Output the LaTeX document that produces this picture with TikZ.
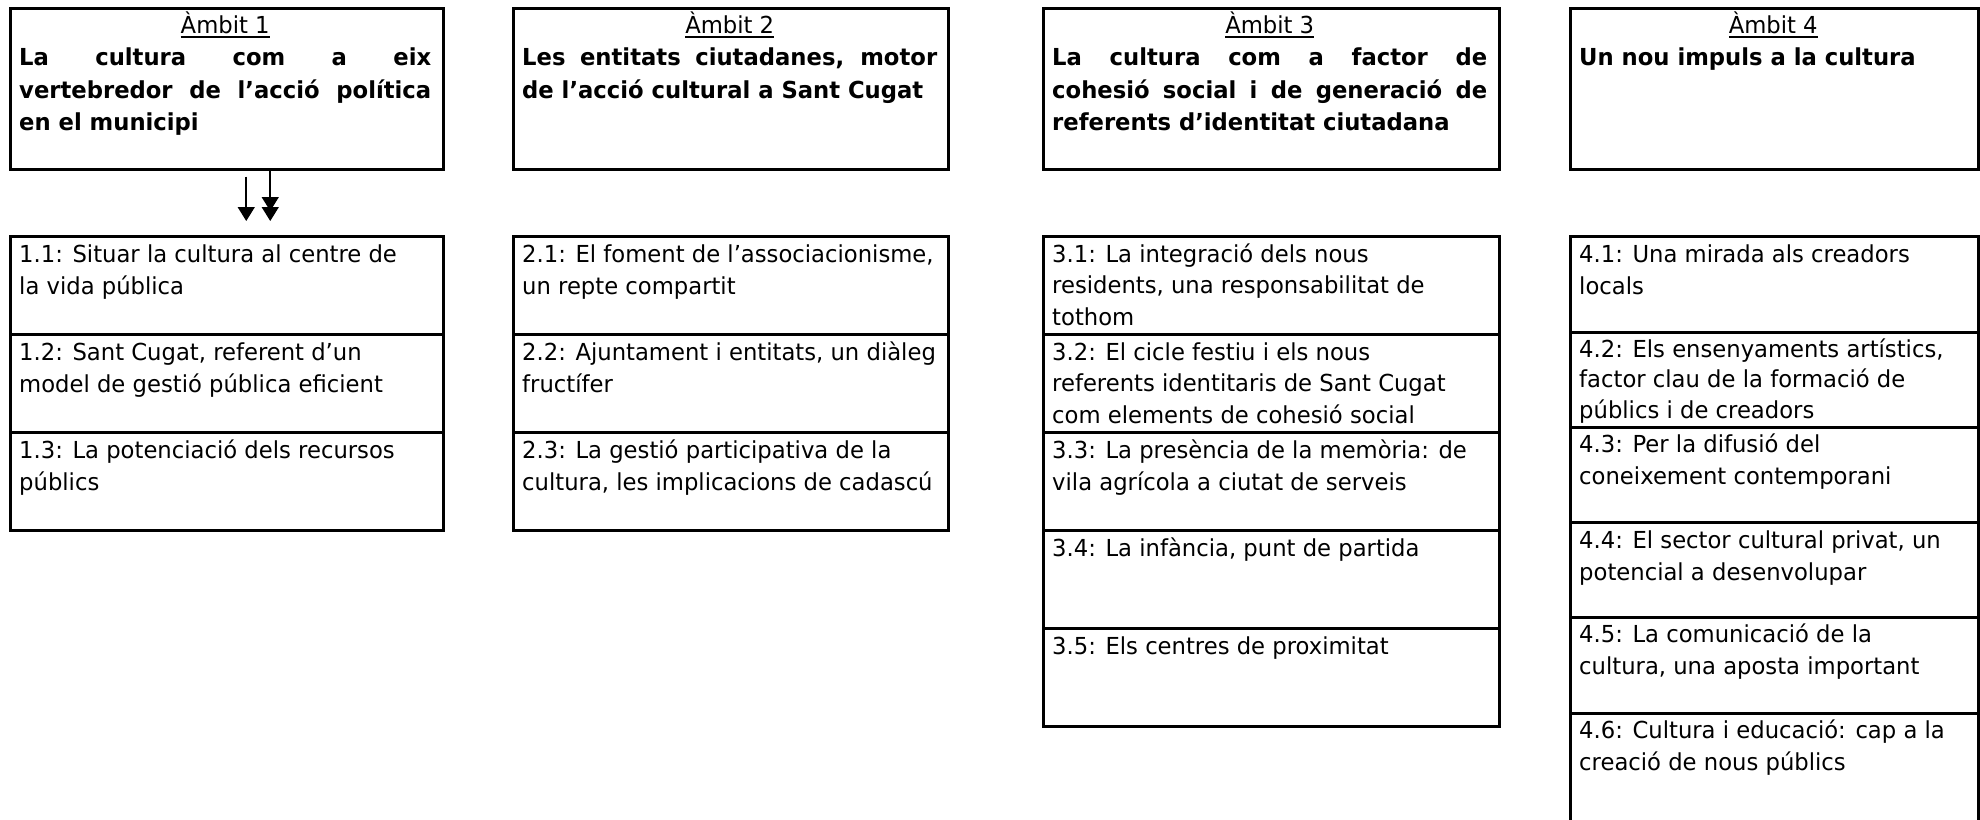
\documentclass[tikz,border=0pt]{standalone}
\usepackage{fontspec}
\setmainfont{DejaVu Sans}[FakeStretch=0.97]
\usetikzlibrary{arrows.meta,calc}
\newcommand\myul[1]{\leavevmode\setbox0\hbox{#1}\rlap{\rule[-4.6pt]{\wd0}{1.6pt}}\box0}
\newcommand\jl[1]{\makebox[\linewidth][s]{#1}}
\tikzset{
  boxnode/.style={draw, line width=2.5pt, rectangle, inner sep=0pt, anchor=north west},
  lbl/.style={anchor=base west, inner sep=0pt, font=\fontsize{23.4}{32.5}\selectfont},
  arr/.style={line width=1.6pt, -{Triangle[length=14pt,width=17pt]}},
}
\begin{document}
\begin{tikzpicture}[x=1pt,y=-1pt]
\clip (0,0) rectangle (1980,819);
% ---------- headers ----------
\node[boxnode, minimum width=433, minimum height=161] (h1) at (9,7) {};
\node[boxnode, minimum width=435, minimum height=161] (h2) at (512,7) {};
\node[boxnode, minimum width=456, minimum height=161] (h3) at (1042,7) {};
\node[boxnode, minimum width=408, minimum height=161] (h4) at (1569,7) {};

\node[lbl] (th1) at ($(h1.north west)+(10,26)$) {\parbox[t]{412pt}{\centering\myul{Àmbit 1}\par\raggedright\bfseries
\jl{La cultura com a eix}\\
\jl{vertebredor de l’acció política}\\
en el municipi}};
\node[lbl] (th2) at ($(h2.north west)+(10,26)$) {\parbox[t]{415pt}{\centering\myul{Àmbit 2}\par\raggedright\bfseries
\jl{Les entitats ciutadanes, motor}\\
de l’acció cultural a Sant Cugat}};
\node[lbl] (th3) at ($(h3.north west)+(10,26)$) {\parbox[t]{435pt}{\centering\myul{Àmbit 3}\par\raggedright\bfseries
\jl{La cultura com a factor de}\\
\jl{cohesió social i de generació de}\\
referents d’identitat ciutadana}};
\node[lbl] (th4) at ($(h4.north west)+(10,26)$) {\parbox[t]{388pt}{\centering\myul{Àmbit 4}\par\raggedright\bfseries
Un nou impuls a la cultura}};

% ---------- column 1 ----------
\node[boxnode, minimum width=433, minimum height=98] (s11) at (9,235) {};
\node[boxnode, minimum width=433, minimum height=98] (s12) at (9,333) {};
\node[boxnode, minimum width=433, minimum height=98] (s13) at (9,431) {};
\node[lbl] (t11) at ($(s11.north west)+(10,27)$) {\parbox[t]{600pt}{\raggedright 1.1: Situar la cultura al centre de\\la vida pública}};
\node[lbl] (t12) at ($(s12.north west)+(10,27)$) {\parbox[t]{600pt}{\raggedright 1.2: Sant Cugat, referent d’un\\model de gestió pública eficient}};
\node[lbl] (t13) at ($(s13.north west)+(10,27)$) {\parbox[t]{600pt}{\raggedright 1.3: La potenciació dels recursos\\públics}};

% ---------- column 2 ----------
\node[boxnode, minimum width=435, minimum height=98] (s21) at (512,235) {};
\node[boxnode, minimum width=435, minimum height=98] (s22) at (512,333) {};
\node[boxnode, minimum width=435, minimum height=98] (s23) at (512,431) {};
\node[lbl] (t21) at ($(s21.north west)+(10,27)$) {\parbox[t]{600pt}{\raggedright 2.1: El foment de l’associacionisme,\\un repte compartit}};
\node[lbl] (t22) at ($(s22.north west)+(10,27)$) {\parbox[t]{600pt}{\raggedright 2.2: Ajuntament i entitats, un diàleg\\fructífer}};
\node[lbl] (t23) at ($(s23.north west)+(10,27)$) {\parbox[t]{600pt}{\raggedright 2.3: La gestió participativa de la\\cultura, les implicacions de cadascú}};

% ---------- column 3 ----------
\node[boxnode, minimum width=456, minimum height=98] (s31) at (1042,235) {};
\node[boxnode, minimum width=456, minimum height=98] (s32) at (1042,333) {};
\node[boxnode, minimum width=456, minimum height=98] (s33) at (1042,431) {};
\node[boxnode, minimum width=456, minimum height=98] (s34) at (1042,529) {};
\node[boxnode, minimum width=456, minimum height=98] (s35) at (1042,627) {};
\node[lbl, font=\fontsize{23.4}{31.5}\selectfont] (t31) at ($(s31.north west)+(10,27)$) {\parbox[t]{600pt}{\raggedright 3.1: La integració dels nous\\residents, una responsabilitat de\\tothom}};
\node[lbl, font=\fontsize{23.4}{31.5}\selectfont] (t32) at ($(s32.north west)+(10,27)$) {\parbox[t]{600pt}{\raggedright 3.2: El cicle festiu i els nous\\referents identitaris de Sant Cugat\\com elements de cohesió social}};
\node[lbl] (t33) at ($(s33.north west)+(10,27)$) {\parbox[t]{600pt}{\raggedright 3.3: La presència de la memòria: de\\vila agrícola a ciutat de serveis}};
\node[lbl] (t34) at ($(s34.north west)+(10,27)$) {\parbox[t]{600pt}{\raggedright 3.4: La infància, punt de partida}};
\node[lbl] (t35) at ($(s35.north west)+(10,27)$) {\parbox[t]{600pt}{\raggedright 3.5: Els centres de proximitat}};

% ---------- column 4 ----------
\node[boxnode, minimum width=408, minimum height=96] (s41) at (1569,235) {};
\node[boxnode, minimum width=408, minimum height=95] (s42) at (1569,331) {};
\node[boxnode, minimum width=408, minimum height=95] (s43) at (1569,426) {};
\node[boxnode, minimum width=408, minimum height=95] (s44) at (1569,521) {};
\node[boxnode, minimum width=408, minimum height=96] (s45) at (1569,616) {};
\node[boxnode, minimum width=408, minimum height=130] (s46) at (1569,712) {};
\node[lbl] (t41) at ($(s41.north west)+(10,27)$) {\parbox[t]{600pt}{\raggedright 4.1: Una mirada als creadors\\locals}};
\node[lbl, font=\fontsize{23.4}{30.5}\selectfont] (t42) at ($(s42.north west)+(10,26)$) {\parbox[t]{600pt}{\raggedright 4.2: Els ensenyaments artístics,\\factor clau de la formació de\\públics i de creadors}};
\node[lbl] (t43) at ($(s43.north west)+(10,26)$) {\parbox[t]{600pt}{\raggedright 4.3: Per la difusió del\\coneixement contemporani}};
\node[lbl] (t44) at ($(s44.north west)+(10,27)$) {\parbox[t]{600pt}{\raggedright 4.4: El sector cultural privat, un\\potencial a desenvolupar}};
\node[lbl] (t45) at ($(s45.north west)+(10,26)$) {\parbox[t]{600pt}{\raggedright 4.5: La comunicació de la\\cultura, una aposta important}};
\node[lbl] (t46) at ($(s46.north west)+(10,26)$) {\parbox[t]{600pt}{\raggedright 4.6: Cultura i educació: cap a la\\creació de nous públics}};

% ---------- arrows ----------
\draw[arr, shorten <=6pt, shorten >=14pt] ([xshift=19.5pt]h1.south) -- ([xshift=19.5pt]s11.north);
\draw[arr, shorten >=14pt] ([xshift=43.5pt]h1.south) -- ([xshift=43.5pt]s11.north);
\draw[arr, shorten >=24pt] ([xshift=43.5pt]h1.south) -- ([xshift=43.5pt]s11.north);
\end{tikzpicture}
\end{document}
